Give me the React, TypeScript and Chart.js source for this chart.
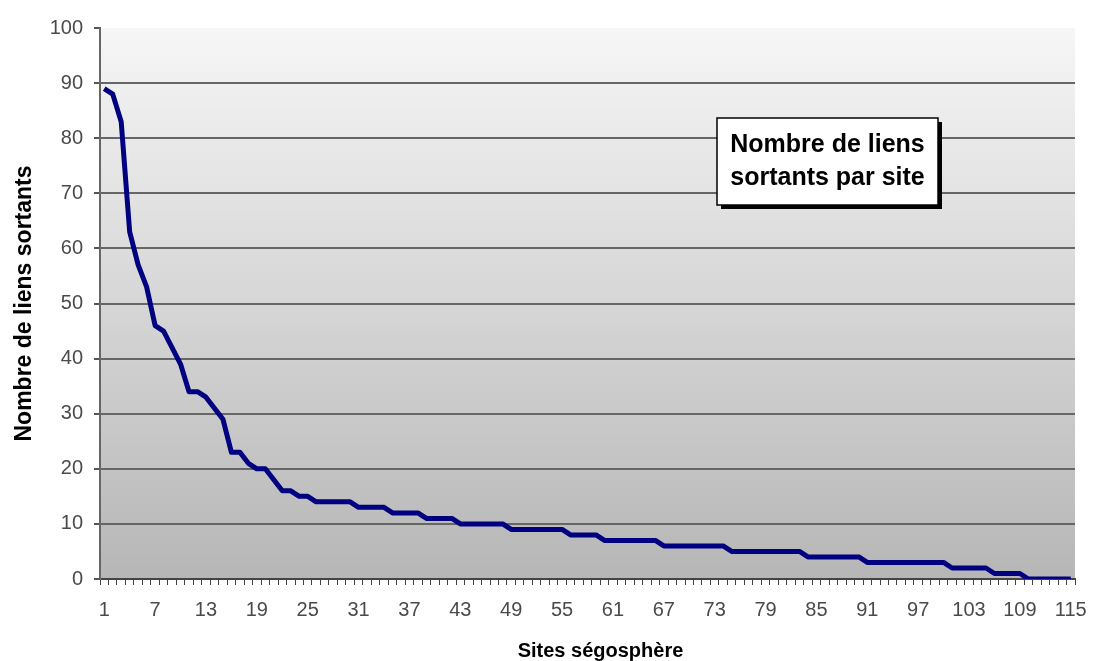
import React, { useEffect, useRef } from "react";
import { Chart, registerables } from "chart.js";

Chart.register(...registerables);

const sites: string[] = Array.from({ length: 115 }, (_, i) => String(i + 1));

const liensSortants: number[] = [
  89, 88, 83, 63, 57, 53, 46, 45, 42, 39,
  34, 34, 33, 31, 29, 23, 23, 21, 20, 20,
  18, 16, 16, 15, 15, 14, 14, 14, 14, 14,
  13, 13, 13, 13, 12, 12, 12, 12, 11, 11,
  11, 11, 10, 10, 10, 10, 10, 10, 9, 9,
  9, 9, 9, 9, 9, 8, 8, 8, 8, 7,
  7, 7, 7, 7, 7, 7, 6, 6, 6, 6,
  6, 6, 6, 6, 5, 5, 5, 5, 5, 5,
  5, 5, 5, 4, 4, 4, 4, 4, 4, 4,
  3, 3, 3, 3, 3, 3, 3, 3, 3, 3,
  2, 2, 2, 2, 2, 1, 1, 1, 1, 0,
  0, 0, 0, 0, 0,
];

const yTicks: number[] = [0, 10, 20, 30, 40, 50, 60, 70, 80, 90, 100];
const boxLines: string[] = ["Nombre de liens", "sortants par site"];
const yTitle = "Nombre de liens sortants";
const xTitle = "Sites ségosphère";

const FONT = "'Liberation Sans', Arial, sans-serif";

const bgPlugin = {
  id: "plotBg",
  beforeDraw(chart: any) {
    const { ctx, chartArea: ca } = chart;
    ctx.save();
    const g = ctx.createLinearGradient(0, ca.top, 0, ca.bottom);
    g.addColorStop(0, "#f6f6f6");
    g.addColorStop(1, "#b6b6b6");
    ctx.fillStyle = g;
    ctx.fillRect(ca.left, ca.top, ca.right - ca.left, ca.bottom - ca.top);
    ctx.restore();
  },
};

const textPlugin = {
  id: "textBox",
  afterDraw(chart: any) {
    const { ctx, chartArea: ca } = chart;
    const w = 221;
    const h = 87;
    const x = ca.left + 617;
    const y = ca.top + 90;
    ctx.save();
    ctx.fillStyle = "#000";
    ctx.fillRect(x + 4, y + 4, w, h);
    ctx.fillStyle = "#fff";
    ctx.fillRect(x, y, w, h);
    ctx.strokeStyle = "#000";
    ctx.lineWidth = 1.5;
    ctx.strokeRect(x, y, w, h);
    ctx.fillStyle = "#000";
    ctx.font = `bold 25px ${FONT}`;
    ctx.textAlign = "center";
    ctx.textBaseline = "middle";
    ctx.fillText(boxLines[0], x + w / 2, y + 27);
    ctx.fillText(boxLines[1], x + w / 2, y + 60);
    // x axis title
    ctx.font = `bold 20px ${FONT}`;
    ctx.fillText(xTitle, (ca.left + ca.right) / 2 + 13, 651);
    ctx.restore();
  },
};

export default function App() {
  const ref = useRef<HTMLCanvasElement | null>(null);

  useEffect(() => {
    if (!ref.current) return;
    const chart = new Chart(ref.current, {
      type: "line",
      data: {
        labels: sites,
        datasets: [
          {
            data: liensSortants,
            borderColor: "#000080",
            borderWidth: 5,
            pointRadius: 0,
            tension: 0,
            fill: false,
            borderJoinStyle: "round",
          },
        ],
      },
      plugins: [bgPlugin, textPlugin],
      options: {
        animation: false,
        responsive: false,
        maintainAspectRatio: false,
        layout: { padding: { top: 28, right: 19, left: 0, bottom: 0 } },
        plugins: {
          legend: { display: false },
          tooltip: { enabled: false },
        },
        scales: {
          x: {
            type: "category",
            offset: true,
            afterFit: (s: any) => {
              s.height = 82;
              s.paddingLeft = 0;
              s.paddingRight = 0;
            },
            grid: {
              offset: true,
              drawOnChartArea: false,
              drawTicks: true,
              tickLength: 6,
              color: "#444",
              lineWidth: 1,
            },
            border: { color: "#444", width: 2 },
            ticks: {
              autoSkip: false,
              maxRotation: 0,
              minRotation: 0,
              padding: 13,
              color: "#4a4a4a",
              font: { family: FONT, size: 20 },
              callback: (_v: any, i: number) => (i % 6 === 0 ? sites[i] : ""),
            },
          },
          y: {
            min: 0,
            max: 100,
            afterFit: (s: any) => {
              s.width = 100;
              s.paddingTop = 0;
              s.paddingBottom = 0;
            },
            afterBuildTicks: (s: any) => {
              s.ticks = yTicks.map((v) => ({ value: v }));
            },
            grid: {
              color: (c: any) =>
                c.tick && c.tick.value === 100 ? "rgba(0,0,0,0)" : "#666",
              lineWidth: 2,
              tickLength: 6,
              tickColor: "#555",
              tickWidth: 2,
            },
            border: { color: "#666", width: 2 },
            ticks: {
              padding: 11,
              color: "#4a4a4a",
              font: { family: FONT, size: 20 },
            },
            title: {
              display: true,
              text: yTitle,
              color: "#000",
              font: { family: FONT, size: 23, weight: "bold", lineHeight: 1.2 },
              padding: { top: 11, bottom: 0 },
            },
          },
        },
      },
    });
    return () => chart.destroy();
  }, []);

  return (
    <div style={{ position: "fixed", left: 0, top: 0, width: 1094, height: 661, background: "#fff" }}>
      <canvas ref={ref} width={1094} height={661} style={{ display: "block" }} />
    </div>
  );
}
